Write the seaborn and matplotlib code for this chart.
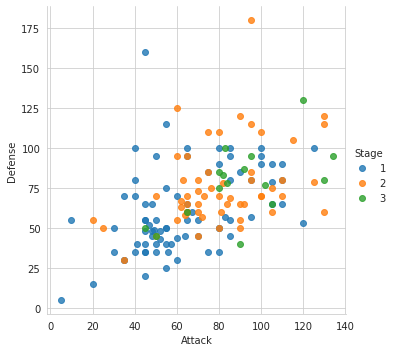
import pandas as pd
import seaborn as sns
from matplotlib import pyplot as plt

# first-generation pokemon: attack, defense, evolution stage
attack = [49, 62, 82, 52, 64, 84, 48, 63, 83, 30, 20, 45, 35, 25, 90, 45, 60, 80,
          56, 81, 60, 90, 60, 85, 55, 90, 75, 100, 47, 62, 92, 57, 72, 102, 45, 70,
          41, 76, 45, 70, 45, 80, 50, 65, 80, 70, 95, 55, 65, 55, 80, 45, 70, 52,
          82, 80, 105, 70, 110, 50, 65, 95, 20, 35, 50, 80, 100, 130, 75, 90, 105,
          40, 70, 80, 95, 120, 85, 100, 65, 75, 35, 60, 65, 85, 110, 45, 70, 80,
          105, 65, 95, 35, 50, 65, 45, 48, 73, 105, 130, 30, 50, 40, 95, 50, 80,
          120, 105, 55, 65, 90, 85, 130, 5, 55, 95, 40, 65, 67, 92, 45, 75, 45,
          110, 50, 83, 95, 125, 100, 10, 125, 85, 48, 55, 65, 65, 130, 60, 40, 60,
          80, 115, 105, 110, 85, 90, 100, 64, 84, 134, 110, 100]
defense = [49, 63, 83, 43, 58, 78, 65, 80, 100, 35, 55, 50, 30, 50, 40, 40, 55, 75,
           35, 60, 30, 65, 44, 69, 40, 55, 85, 110, 52, 67, 87, 40, 57, 77, 48, 73,
           40, 75, 20, 45, 35, 70, 55, 70, 85, 55, 80, 50, 60, 25, 50, 35, 60, 48,
           78, 35, 60, 45, 80, 40, 65, 95, 15, 30, 45, 50, 70, 80, 35, 50, 65,
           35, 65, 100, 115, 130, 55, 70, 65, 110, 70, 95, 55, 45, 70, 55, 80, 50,
           75, 100, 180, 30, 45, 60, 160, 45, 70, 90, 115, 50, 70, 80, 85, 95, 110,
           53, 79, 75, 95, 120, 95, 120, 5, 115, 80, 70, 95, 60, 65, 55, 85, 65,
           80, 35, 57, 57, 100, 95, 55, 79, 80, 48, 50, 60, 60, 60, 70, 100, 125,
           90, 105, 65, 65, 100, 85, 90, 45, 65, 95, 90, 100]
stage = [1, 2, 3, 1, 2, 3, 1, 2, 3, 1, 2, 3, 1, 2, 3, 1, 2, 3,
         1, 2, 1, 2, 1, 2, 1, 2, 1, 2, 1, 2, 3, 1, 2, 3, 1, 2,
         1, 2, 1, 2, 1, 2, 1, 2, 3, 1, 2, 1, 2, 1, 2, 1, 2, 1,
         2, 1, 2, 1, 2, 1, 2, 3, 1, 2, 3, 1, 2, 3, 1, 2, 3,
         1, 2, 1, 2, 3, 1, 2, 1, 2, 1, 2, 1, 1, 2, 1, 2, 1,
         2, 1, 2, 1, 2, 3, 1, 1, 2, 1, 2, 1, 2, 1, 2, 1, 2,
         1, 1, 1, 1, 2, 1, 2, 1, 1, 1, 1, 2, 1, 2, 1, 2, 1,
         1, 1, 1, 1, 1, 1, 1, 2, 1, 1, 1, 2, 2, 2, 1, 1, 2,
         1, 2, 1, 1, 1, 1, 1, 1, 2, 3, 1, 1]

df = pd.DataFrame({'Attack': attack, 'Defense': defense, 'Stage': stage})

sns.set_style('whitegrid')
plt.rcParams['figure.dpi'] = 72
g = sns.lmplot(data=df, x='Attack', y='Defense', hue='Stage', fit_reg=False,
               height=5, aspect=1, palette=['#1f77b4', '#ff7f0e', '#2ca02c'])
g.savefig('out.png', dpi=72, bbox_inches='tight')
